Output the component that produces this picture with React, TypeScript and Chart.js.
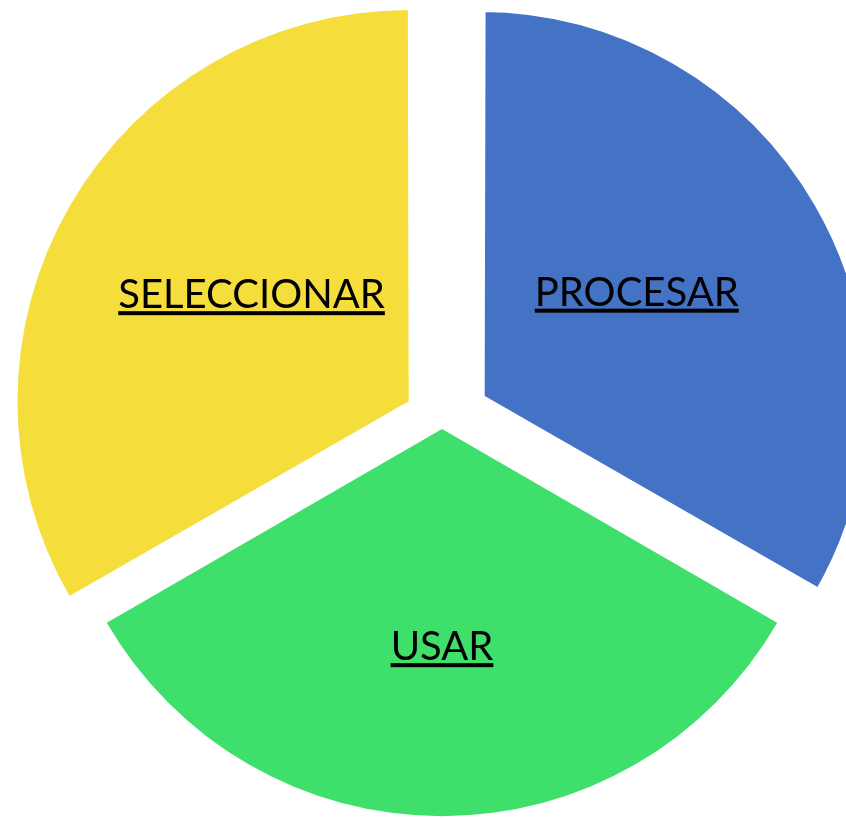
import { useEffect, useRef } from "react";
import { Chart, registerables } from "chart.js";

Chart.register(...registerables);

const categories: string[] = ["SELECCIONAR", "PROCESAR", "USAR"];
const values: number[] = [1, 1, 1];
const sliceColors: string[] = ["#F5DE3C", "#4472C4", "#3EDF6B"];

const labelPlugin = {
  id: "sliceLabels",
  afterDatasetsDraw(chart: any) {
    const ctx: CanvasRenderingContext2D = chart.ctx;
    const meta = chart.getDatasetMeta(0);
    ctx.save();
    ctx.font = "40px Lato";
    ctx.fillStyle = "#000000";
    ctx.textAlign = "left";
    ctx.textBaseline = "alphabetic";
    meta.data.forEach((arc: any, i: number) => {
      const p = arc.getProps(["x", "y", "startAngle", "endAngle", "outerRadius"], true);
      const mid = (p.startAngle + p.endAngle) / 2;
      const off = (arc.options.offset || 0) / 4;
      const cx = p.x + Math.cos(mid) * off;
      const cy = p.y + Math.sin(mid) * off;
      const lx = cx + Math.cos(mid) * p.outerRadius * 0.47;
      const ly = cy + Math.sin(mid) * p.outerRadius * 0.56;
      const text = String(chart.data.labels[i]);
      const w = ctx.measureText(text).width;
      const x0 = lx - w / 2;
      const base = ly + 15;
      ctx.fillText(text, x0, base);
      ctx.fillRect(x0, base + 3, w, 4);
    });
    ctx.restore();
  },
};

export default function App() {
  const canvasRef = useRef<HTMLCanvasElement | null>(null);

  useEffect(() => {
    const canvas = canvasRef.current;
    if (!canvas) return;
    const chart = new Chart(canvas, {
      type: "pie",
      data: {
        labels: categories,
        datasets: [
          {
            data: values,
            backgroundColor: sliceColors,
            borderColor: "#ffffff",
            borderWidth: [0, 10, 0],
            borderAlign: "center",
            offset: [154, 174, 34],
            radius: 386,
            rotation: -120,
            clip: false,
          } as any,
        ],
      },
      options: {
        responsive: false,
        animation: false,
        devicePixelRatio: 1,
        layout: { padding: { left: 38, top: 23, right: 0, bottom: 0 } },
        plugins: {
          legend: { display: false },
          tooltip: { enabled: false },
        },
        events: [],
      } as any,
      plugins: [labelPlugin],
    });
    return () => chart.destroy();
  }, []);

  return (
    <div style={{ position: "fixed", left: 0, top: 0, width: 846, height: 818, background: "#ffffff" }}>
      <canvas ref={canvasRef} width={846} height={818} style={{ display: "block", width: 846, height: 818 }} />
    </div>
  );
}
